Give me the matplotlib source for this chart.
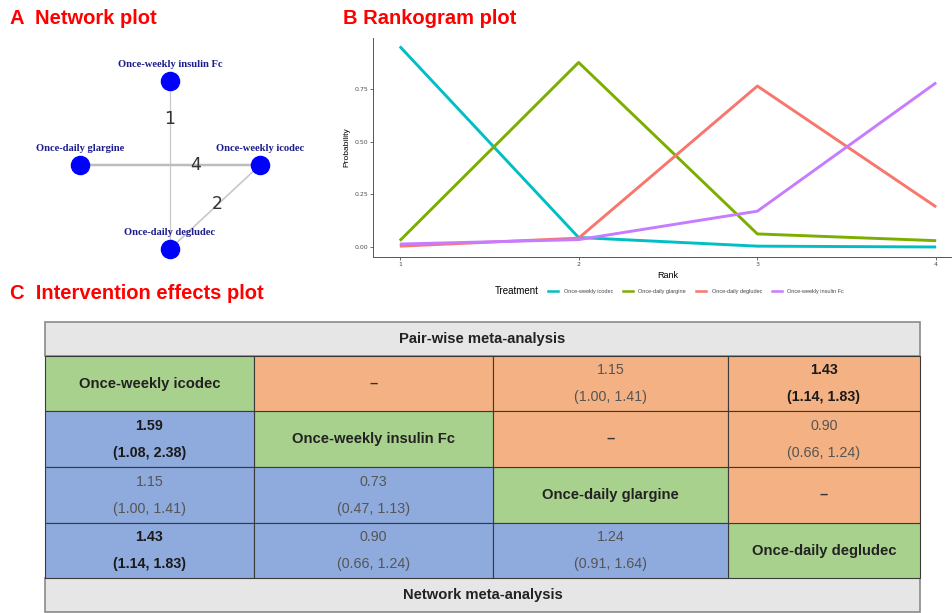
import matplotlib
matplotlib.use("Agg")
import matplotlib.pyplot as plt
from matplotlib.patches import Rectangle
from matplotlib.lines import Line2D

W, H = 953, 613

# --- Dados: rankogram ---
ranks = [1, 2, 3, 4]
rank_treatments = ["Once-weekly icodec", "Once-daily glargine",
                   "Once-daily degludec", "Once-weekly insulin Fc"]
prob_icodec = [0.952, 0.045, 0.004, 0.0]
prob_glargine = [0.030, 0.876, 0.062, 0.030]
prob_degludec = [0.004, 0.042, 0.764, 0.190]
prob_insulin_fc = [0.014, 0.035, 0.170, 0.780]
rank_colors = ["#00BFC4", "#7CAE00", "#F8766D", "#C77CFF"]

# --- Dados: network ---
net_nodes = ["Once-weekly insulin Fc", "Once-daily glargine",
             "Once-weekly icodec", "Once-daily degludec"]
net_x = [0, -1, 1, 0]
net_y = [1, 0, 0, -1]
net_edges = [(0, 3), (1, 2), (2, 3)]
net_counts = [1, 4, 2]
net_label_t = [0.225, 0.64, 0.47]   # posição do número ao longo da aresta

# --- Dados: league table ---
league_names = ["Once-weekly icodec", "Once-weekly insulin Fc",
                "Once-daily glargine", "Once-daily degludec"]
# network meta-analysis (triângulo inferior)
nma_cells = [(1, 0), (2, 0), (2, 1), (3, 0), (3, 1), (3, 2)]
nma_est = [1.59, 1.15, 0.73, 1.43, 0.90, 1.24]
nma_lo = [1.08, 1.00, 0.47, 1.14, 0.66, 0.91]
nma_hi = [2.38, 1.41, 1.13, 1.83, 1.24, 1.64]
# pair-wise meta-analysis (triângulo superior), None = sem estudos diretos
pw_cells = [(0, 1), (0, 2), (0, 3), (1, 2), (1, 3), (2, 3)]
pw_est = [None, 1.15, 1.43, None, 0.90, None]
pw_lo = [None, 1.00, 1.14, None, 0.66, None]
pw_hi = [None, 1.41, 1.83, None, 1.24, None]

fig = plt.figure(figsize=(W / 100, H / 100), dpi=100)


def px_axes(x0, y0, x1, y1):
    return fig.add_axes([x0 / W, 1 - y1 / H, (x1 - x0) / W, (y1 - y0) / H])


title_kw = dict(color="#FF0000", fontsize=14.5, fontweight="bold",
                family="Liberation Sans", va="center", ha="left")
fig.text(10 / W, 1 - 18 / H, "A  Network plot", **title_kw)
fig.text(343 / W, 1 - 18 / H, "B Rankogram plot", **title_kw)
fig.text(10 / W, 1 - 294 / H, "C  Intervention effects plot", **title_kw)

# --- A: network plot ---
axn = px_axes(40, 39, 300, 291)
for (a, b), n, t in zip(net_edges, net_counts, net_label_t):
    axn.plot([net_x[a], net_x[b]], [net_y[a], net_y[b]],
             color="#C8C8C8" if n < 4 else "#BDBDBD", lw=0.6 + 0.3 * n, zorder=1)
    lx = net_x[a] + t * (net_x[b] - net_x[a])
    ly = net_y[a] + t * (net_y[b] - net_y[a])
    axn.text(lx, ly, str(n), fontsize=12.5, color="#333333",
             ha="center", va="center", zorder=3)
axn.scatter(net_x, net_y, s=170, color="#0000FF", zorder=2)
for name, x, y in zip(net_nodes, net_x, net_y):
    axn.annotate(name, (x, y), xytext=(0, 11.8), textcoords="offset points",
                 ha="center", va="center", fontsize=7.6, fontweight="bold",
                 family="Liberation Serif", color="#1C1C8C")
axn.set_xlim(-1.444, 1.444)
axn.set_ylim(-1.5, 1.5)
axn.axis("off")

# --- B: rankogram ---
axr = px_axes(373, 38, 963, 257)
series = [prob_icodec, prob_glargine, prob_degludec, prob_insulin_fc]
for name, vals, c in zip(rank_treatments, series, rank_colors):
    axr.plot(ranks, vals, color=c, lw=2.1, label=name, solid_capstyle="butt")
axr.set_xlim(0.85, 4.15)
axr.set_ylim(-0.0475, 0.992)
axr.set_xticks(ranks)
axr.set_yticks([0, 0.25, 0.5, 0.75])
axr.set_yticklabels(["0.00", "0.25", "0.50", "0.75"])
axr.tick_params(labelsize=4.5, labelcolor="#4D4D4D", color="#333333",
                length=2, width=0.5, pad=1.5)
for s in ["top", "right"]:
    axr.spines[s].set_visible(False)
for s in ["left", "bottom"]:
    axr.spines[s].set_color("#555555")
    axr.spines[s].set_linewidth(0.7)
axr.set_xlabel("Rank", fontsize=6.5, family="Liberation Sans", labelpad=3)
axr.set_ylabel("Probability", fontsize=6, family="Liberation Sans", labelpad=3)

fig.text(495 / W, 1 - 291 / H, "Treatment", fontsize=7,
         family="Liberation Sans", va="center", ha="left")
handles = [Line2D([], [], color=c, lw=1.8) for c in rank_colors]
fig.legend(handles, rank_treatments, ncol=4, frameon=False,
           prop={"size": 4.0, "family": "Liberation Sans"},
           loc="center left", bbox_to_anchor=(543 / W, 1 - 291 / H),
           handlelength=1.8, handletextpad=1.0, columnspacing=1.8,
           labelcolor="#444444")

# --- C: league table ---
col_edges = [45, 254, 493, 728, 920]
row_edges = [322, 356, 411, 467, 523, 578, 612]
green, orange, blue, grey = "#A9D18E", "#F4B183", "#8FAADC", "#E7E6E6"

axt = px_axes(45, 322, 920, 612)
axt.set_xlim(45, 920)
axt.set_ylim(612, 322)
axt.axis("off")

cell_kw = dict(ha="center", va="center", family="Liberation Sans")
label_size = 10.6
value_size = 10.3


def cell_box(i, j, color):
    x0, x1 = col_edges[j], col_edges[j + 1]
    y0, y1 = row_edges[i + 1], row_edges[i + 2]
    axt.add_patch(Rectangle((x0, y0), x1 - x0, y1 - y0, facecolor=color,
                            edgecolor="#3A3A3A", lw=0.8, clip_on=False))
    return (x0 + x1) / 2, (y0 + y1) / 2


def cell_value(cx, cy, est, lo, hi):
    bold = lo > 1 or hi < 1
    kw = dict(fontsize=value_size, color="#1A1A1A" if bold else "#555555",
              fontweight="bold" if bold else "normal", **cell_kw)
    axt.text(cx, cy - 13.5, f"{est:.2f}", **kw)
    axt.text(cx, cy + 13.5, f"({lo:.2f}, {hi:.2f})", **kw)


# cabeçalho e rodapé
for r0, r1 in [(0, 1), (5, 6)]:
    axt.add_patch(Rectangle((col_edges[0], row_edges[r0]), col_edges[-1] - col_edges[0],
                            row_edges[r1] - row_edges[r0], facecolor=grey,
                            edgecolor="#8A8A8A", lw=1.2, clip_on=False))
mid_x = (col_edges[0] + col_edges[-1]) / 2
axt.text(mid_x, (row_edges[0] + row_edges[1]) / 2, "Pair-wise meta-analysis",
         fontsize=label_size, fontweight="bold", color="#222222", **cell_kw)
axt.text(mid_x, (row_edges[5] + row_edges[6]) / 2, "Network meta-analysis",
         fontsize=label_size, fontweight="bold", color="#222222", **cell_kw)

for k, name in enumerate(league_names):
    cx, cy = cell_box(k, k, green)
    axt.text(cx, cy, name, fontsize=label_size, fontweight="bold",
             color="#222222", **cell_kw)

for (i, j), e, lo, hi in zip(nma_cells, nma_est, nma_lo, nma_hi):
    cx, cy = cell_box(i, j, blue)
    cell_value(cx, cy, e, lo, hi)

for (i, j), e, lo, hi in zip(pw_cells, pw_est, pw_lo, pw_hi):
    cx, cy = cell_box(i, j, orange)
    if e is None:
        axt.text(cx, cy, "–", fontsize=label_size, fontweight="bold",
                 color="#333333", **cell_kw)
    else:
        cell_value(cx, cy, e, lo, hi)

fig.savefig("out.png", dpi=100)
